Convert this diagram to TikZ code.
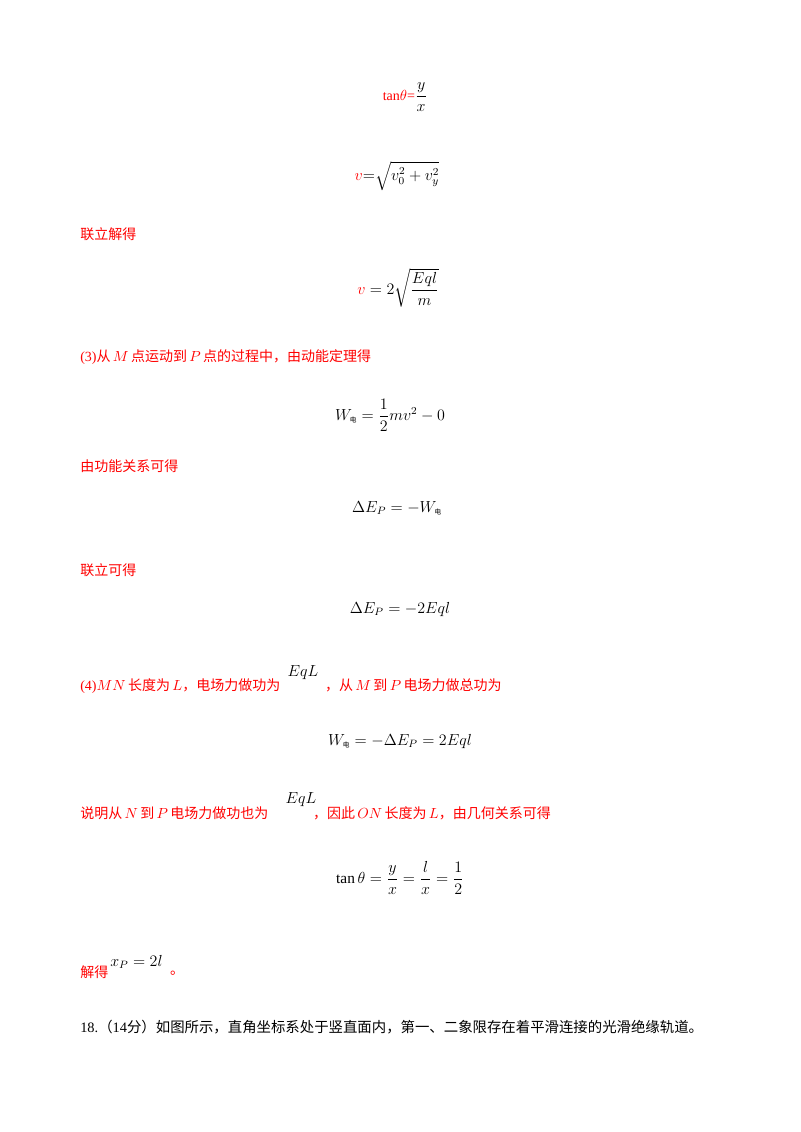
\documentclass[tikz,border=0pt]{standalone}
\usepackage{amsmath}
\usepackage{fontspec}
\setmainfont{Liberation Serif}
\newfontfamily\cjk{Noto Sans CJK SC}
\newcommand{\dian}{\mbox{\fontsize{5}{5}\cjk 电}}
\begin{document}
\begin{tikzpicture}[x=0.75pt,y=-0.75pt,
  every node/.style={inner sep=0pt,font=\fontsize{10.5}{12}\selectfont},
  redtxt/.style={anchor=west,text=red},
  eq/.style={font=\fontsize{11.5}{13}\selectfont}]
\useasboundingbox (0,0) rectangle (800,1132);
\node[eq] (e1) at (405,97) {\textcolor{red}{\fontsize{10.5}{12}\selectfont tan$\theta$=}$\dfrac{y}{x}$};
\node[eq] (e2) at (397,176) {$\textcolor{red}{v}{=}\sqrt{v_0^2+v_y^2}$};
\node[redtxt] (t1) at (80,234) {\cjk 联立解得};
\node[eq] (e3) at (398,288) {$\textcolor{red}{v}=2\sqrt{\dfrac{Eql}{m}}$};
\node[redtxt] (t2) at (80,357) {(3){\cjk 从}\,$M$\,{\cjk 点运动到}\,$P$\,{\cjk 点的过程中，由动能定理得}};
\node[eq] (e4) at (390,415) {$W_{\dian}=\dfrac{1}{2}mv^2-0$};
\node[redtxt] (t3) at (80,466) {\cjk 由功能关系可得};
\node[eq] (e5) at (397,508) {$\Delta E_P=-W_{\dian}$};
\node[redtxt] (t4) at (80,570) {\cjk 联立可得};
\node[eq] (e6) at (400,609) {$\Delta E_P=-2Eql$};
\node[redtxt] (t5) at (80,686) {(4)$MN$\,{\cjk 长度为}\,$L${\cjk ，电场力做功为}\hspace{3.2em}{\cjk ，从}\,$M$\,{\cjk 到}\,$P$\,{\cjk 电场力做总功为}};
\node (q1) at (303,673) {\large$EqL$};
\node[eq] (e7) at (400,741) {$W_{\dian}=-\Delta E_P=2Eql$};
\node[redtxt] (t6) at (80,813) {{\cjk 说明从}\,$N$\,{\cjk 到}\,$P$\,{\cjk 电场力做功也为}\hspace{3.2em}{\cjk ，因此}\,$ON$\,{\cjk 长度为}\,$L${\cjk ，由几何关系可得}};
\node (q2) at (301,800) {\large$EqL$};
\node[eq] (e8) at (400,878) {$\tan\theta=\dfrac{y}{x}=\dfrac{l}{x}=\dfrac{1}{2}$};
\node[redtxt] (t7) at (80,972) {\cjk 解得};
\node[anchor=west,eq] (e9) at (110,962) {$x_P=2l$};
\node[text=red] (t8) at (177,973) {\cjk 。};
\node[anchor=west,font=\fontsize{10.8}{12}\selectfont] (t9) at (80,1027) {18.{\cjk （}14{\cjk 分）如图所示，直角坐标系处于竖直面内，第一、二象限存在着平滑连接的光滑绝缘轨道。}};
\end{tikzpicture}
\end{document}
